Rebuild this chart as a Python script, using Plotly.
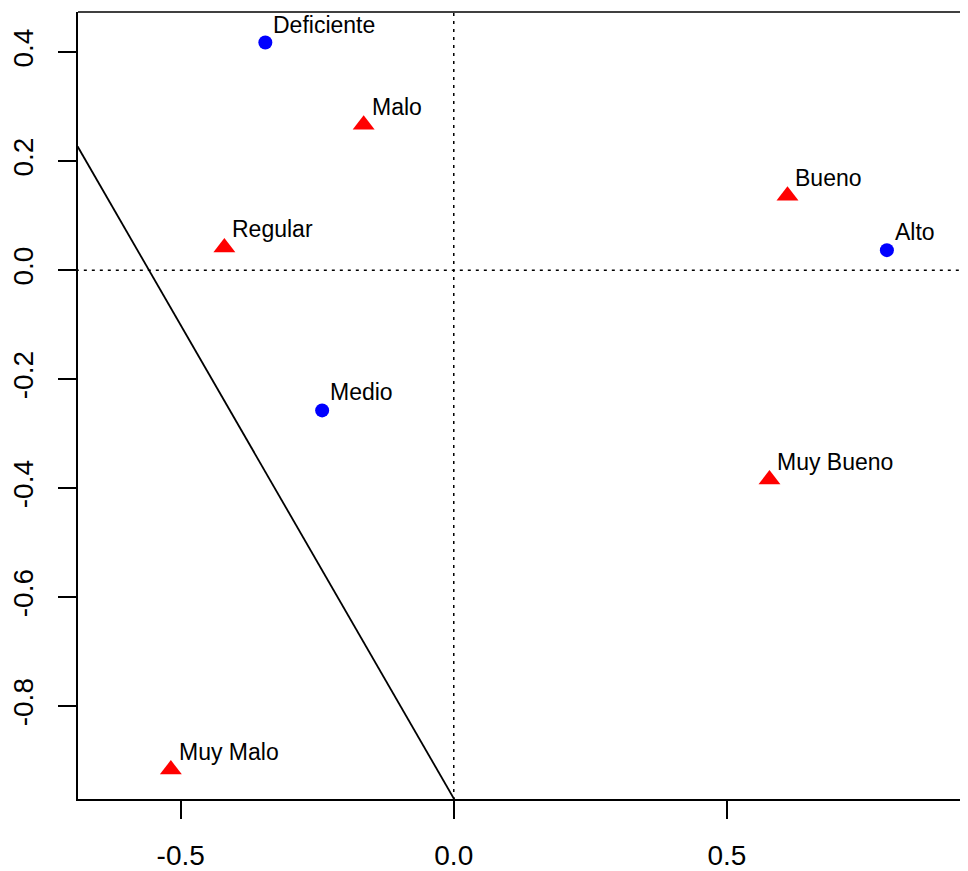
import plotly.graph_objects as go

# Row categories (blue circles)
row_labels = ["Deficiente", "Medio", "Alto"]
row_x = [-0.345, -0.241, 0.793]
row_y = [0.418, -0.257, 0.037]

# Column categories (red triangles)
col_labels = ["Malo", "Regular", "Bueno", "Muy Bueno", "Muy Malo"]
col_x = [-0.165, -0.420, 0.611, 0.578, -0.518]
col_y = [0.267, 0.042, 0.137, -0.384, -0.916]

# Reference line (intercept, slope)
line_intercept = -0.969
line_slope = -1.737

x_ticks = [-0.5, 0.0, 0.5]
x_tick_text = ["-0.5", "0.0", "0.5"]
y_ticks = [-0.8, -0.6, -0.4, -0.2, 0.0, 0.2, 0.4]
y_tick_text = ["-0.8", "-0.6", "-0.4", "-0.2", "0.0", "0.2", "0.4"]

x_range = [-0.688, 0.9415]
y_range = [-0.970, 0.474]

FONT = "Liberation Sans, Arial, sans-serif"

fig = go.Figure()

# dotted reference lines at 0
fig.add_trace(go.Scatter(x=[x_range[0] - 1, x_range[1] + 1], y=[0, 0], mode="lines",
                         line=dict(color="black", width=1.5, dash="3px,5px"),
                         hoverinfo="skip", showlegend=False))
fig.add_trace(go.Scatter(x=[0, 0], y=[y_range[0] - 1, y_range[1] + 1], mode="lines",
                         line=dict(color="black", width=1.5, dash="3px,5px"),
                         hoverinfo="skip", showlegend=False))

# solid line
lx = [x_range[0] - 0.2, x_range[1] + 0.2]
ly = [line_intercept + line_slope * v for v in lx]
fig.add_trace(go.Scatter(x=lx, y=ly, mode="lines", line=dict(color="black", width=1.8),
                         hoverinfo="skip", showlegend=False))

fig.add_trace(go.Scatter(x=row_x, y=row_y, mode="markers",
                         marker=dict(symbol="circle", size=14, color="#0000FF", line=dict(width=0)),
                         showlegend=False))
fig.add_trace(go.Scatter(x=col_x, y=col_y, mode="markers",
                         marker=dict(symbol="triangle-up", size=19, color="#FF0000", line=dict(width=0)),
                         showlegend=False))

for lab, x, y in list(zip(row_labels, row_x, row_y)) + list(zip(col_labels, col_x, col_y)):
    fig.add_annotation(x=x, y=y, text=lab, showarrow=False, xanchor="left", yanchor="bottom",
                       xshift=6, yshift=3, font=dict(family=FONT, size=23, color="black"))

# top border line
fig.add_shape(type="line", xref="paper", yref="paper", x0=0, x1=1.01, y0=1, y1=1,
              line=dict(color="black", width=1.6))

# page body has an 8px margin: size/margins compensate so the plot area lands on the reference
fig.update_layout(
    width=960, height=863,
    margin=dict(l=68, r=0, t=4, b=64),
    paper_bgcolor="white", plot_bgcolor="white",
    font=dict(family=FONT, color="black"),
    xaxis=dict(range=x_range, tickvals=x_ticks, ticktext=x_tick_text, showgrid=False,
               zeroline=False, showline=True, linecolor="black", linewidth=1.6,
               ticks="outside", ticklen=18, tickwidth=1.6, tickcolor="black",
               tickfont=dict(size=28), ticklabelstandoff=13),
    yaxis=dict(range=y_range, tickvals=y_ticks, ticktext=y_tick_text, showgrid=False,
               zeroline=False, showline=True, linecolor="black", linewidth=1.6,
               ticks="outside", ticklen=18, tickwidth=1.6, tickcolor="black",
               tickfont=dict(size=28), tickangle=-90, ticklabelstandoff=14),
)

fig.write_html("out.html")
